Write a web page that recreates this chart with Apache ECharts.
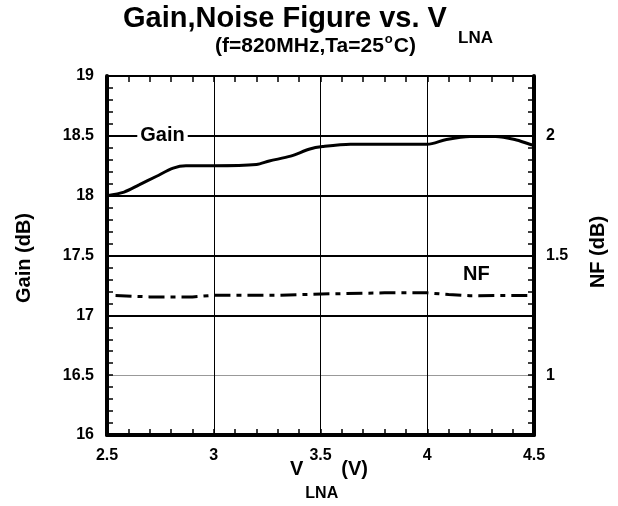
<!DOCTYPE html>
<html>
<head>
<meta charset="utf-8">
<script src="https://cdn.jsdelivr.net/npm/echarts@6/dist/echarts.min.js"></script>
<style>
html,body{margin:0;padding:0;background:#fff;}
#c{width:618px;height:506px;}
</style>
</head>
<body>
<div id="c"></div>
<script>
// ---- data ----
var gainV  = [2.5, 2.58, 2.65, 2.73, 2.81, 2.87, 3.0, 3.2, 3.26, 3.36, 3.45, 3.51, 3.64, 4.0, 4.09, 4.2, 4.32, 4.41, 4.48, 4.5];
var gainDb = [18.0, 18.03, 18.09, 18.16, 18.23, 18.25, 18.25, 18.26, 18.29, 18.33, 18.39, 18.41, 18.43, 18.43, 18.47, 18.495, 18.495, 18.47, 18.43, 18.42];
var nfV    = [2.54, 2.7, 2.9, 3.0, 3.3, 3.55, 3.8, 4.0, 4.1, 4.2, 4.5];
var nfDb   = [1.333, 1.327, 1.327, 1.334, 1.334, 1.34, 1.344, 1.344, 1.337, 1.332, 1.333];
var gainTicks = [16, 16.5, 17, 17.5, 18, 18.5, 19];
var nfTickLabels = [1, 1.5, 2];
var xTicks = [2.5, 3, 3.5, 4, 4.5];
var boldGrid = [17, 17.5, 18, 18.5];
var gainLabelAt = [2.76, 18.5];
var nfLabelAt = [4.23, 1.42];

var FONT = "'Liberation Sans', Arial, Helvetica, sans-serif";
var chart = echarts.init(document.getElementById('c'), null, {renderer:'canvas'});

function pairs(xs, ys){ return xs.map(function(x,i){ return [x, ys[i]]; }); }

var meas = document.createElement('canvas').getContext('2d');
function tw(str, size){ meas.font = 'bold ' + size + 'px ' + FONT; return meas.measureText(str).width; }

function tickStyle(){ return {show:true, inside:true, length:6, lineStyle:{color:'#000', width:1.5}}; }
function minorStyle(){ return {show:true, splitNumber:5, length:6, lineStyle:{color:'#000', width:1.5}}; }
function labelStyle(m){ return {show:true, margin:m, color:'#000', fontFamily:FONT, fontWeight:'bold', fontSize:16}; }

// title pieces
var tMain = 'Gain,Noise Figure vs. V';
var tX = 123;
var sub1 = '(f=820MHz,Ta=25', sub2 = 'o', sub3 = 'C)';
var sX = 215;
var s1w = tw(sub1, 21), s2w = tw(sub2, 13);
var xnX = 290;
var vW = tw('V', 20), lnaW = tw('LNA', 16);

function txt(x, y, s, size, rot){
  var o = {type:'text', x:x, y:y, silent:true, z:100,
    style:{text:s, font:'bold ' + size + 'px ' + FONT, fill:'#000', align:rot ? 'center' : 'left', verticalAlign:'middle'}};
  if (rot) o.rotation = rot;
  return o;
}

var nfFmt = function(v){
  for (var i=0;i<nfTickLabels.length;i++){ if (Math.abs(nfTickLabels[i]-v)<1e-9) return String(nfTickLabels[i]); }
  return '';
};

var option = {
  animation:false,
  backgroundColor:'#fff',
  grid:{left:107, right:84, top:76, height:359, containLabel:false},
  xAxis:[{
    type:'value', position:'bottom', min:xTicks[0], max:xTicks[xTicks.length-1], interval:0.5,
    axisLine:{show:true, onZero:false, lineStyle:{color:'#000', width:4}},
    axisTick:tickStyle(), minorTick:minorStyle(),
    axisLabel:labelStyle(13),
    splitLine:{show:true, lineStyle:{color:'#000', width:1}},
    minorSplitLine:{show:false}
  },{
    type:'value', position:'top', min:xTicks[0], max:xTicks[xTicks.length-1], interval:0.5,
    axisLine:{show:true, onZero:false, lineStyle:{color:'#000', width:2}},
    axisTick:tickStyle(), minorTick:minorStyle(),
    axisLabel:{show:false}, splitLine:{show:false}
  }],
  yAxis:[{
    type:'value', position:'left', min:gainTicks[0], max:gainTicks[gainTicks.length-1], interval:0.5,
    axisLine:{show:true, onZero:false, lineStyle:{color:'#000', width:4}},
    axisTick:tickStyle(), minorTick:minorStyle(),
    axisLabel:labelStyle(13),
    splitLine:{show:true, lineStyle:{color:'#999', width:1}}
  },{
    type:'value', position:'right', min:0.75, max:2.25, interval:0.25,
    axisLine:{show:true, onZero:false, lineStyle:{color:'#000', width:4}},
    axisTick:tickStyle(), minorTick:minorStyle(),
    axisLabel:Object.assign(labelStyle(12), {formatter:nfFmt}),
    splitLine:{show:false}
  }],
  series:[{
    name:'Gain', type:'line', xAxisIndex:0, yAxisIndex:0, data:pairs(gainV, gainDb),
    showSymbol:false, symbol:'none', smooth:0.3,
    lineStyle:{color:'#000', width:3},
    z:5,
    markLine:{silent:true, symbol:['none','none'], label:{show:false},
      lineStyle:{color:'#000', width:2, type:'solid'},
      data:boldGrid.map(function(v){ return {yAxis:v}; })}
  },{
    name:'NF', type:'line', xAxisIndex:0, yAxisIndex:1, data:pairs(nfV, nfDb),
    showSymbol:false, symbol:'none',
    lineStyle:{color:'#000', width:3, type:[16,6,5,6]},
    z:5
  },{
    type:'scatter', xAxisIndex:0, yAxisIndex:0, data:[gainLabelAt], symbolSize:0, z:20,
    itemStyle:{opacity:1},
    label:{show:true, position:'inside', formatter:'Gain', color:'#000', fontFamily:FONT, fontWeight:'bold', fontSize:20,
      backgroundColor:'#fff', padding:[1,3]}
  },{
    type:'scatter', xAxisIndex:0, yAxisIndex:1, data:[nfLabelAt], symbolSize:0, z:20,
    itemStyle:{opacity:1},
    label:{show:true, position:'inside', formatter:'NF', color:'#000', fontFamily:FONT, fontWeight:'bold', fontSize:20}
  }],
  graphic:[
    txt(tX, 19, tMain, 29),
    txt(458, 38, 'LNA', 17),
    txt(sX, 46, sub1, 21),
    txt(sX + s1w + 1, 39, sub2, 13),
    txt(sX + s1w + s2w + 2, 46, sub3, 21),
    txt(xnX, 469, 'V', 20),
    txt(xnX + vW + 2, 494, 'LNA', 16),
    txt(xnX + vW + lnaW + 5, 469, '(V)', 20),
    txt(24, 258, 'Gain (dB)', 20, Math.PI/2),
    txt(598, 252, 'NF (dB)', 20, Math.PI/2)
  ]
};
chart.setOption(option);
</script>
</body>
</html>
